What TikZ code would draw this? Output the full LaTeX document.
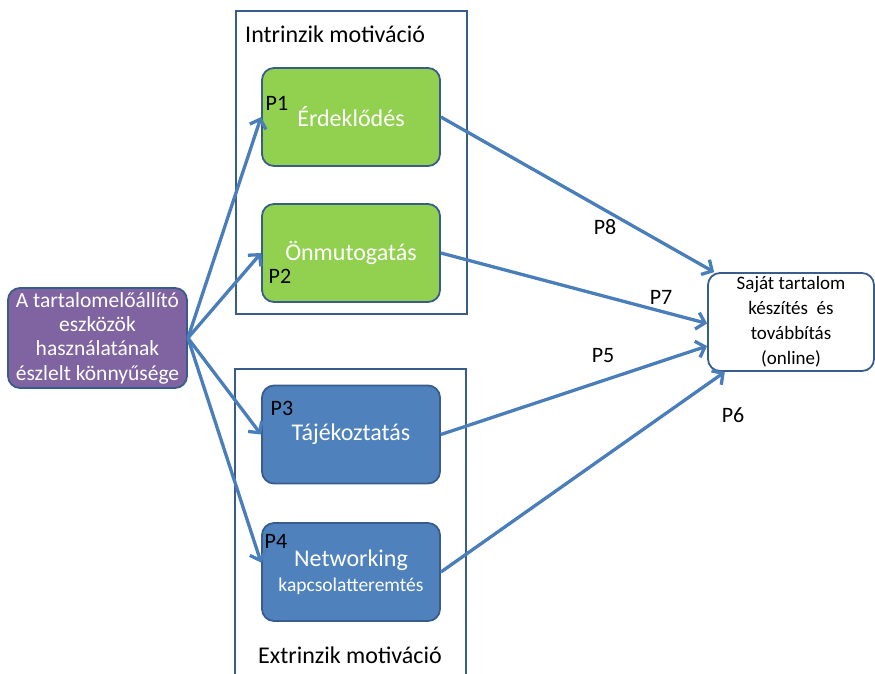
\documentclass[tikz,border=0pt]{standalone}
\usepackage{fontspec}
\setmainfont{Carlito}
\usetikzlibrary{arrows.meta}
\definecolor{grn}{HTML}{92D050}
\definecolor{blu}{HTML}{4F81BD}
\definecolor{pur}{HTML}{8064A2}
\definecolor{bord}{HTML}{385D8A}
\definecolor{arr}{HTML}{4A7EBB}
\begin{document}
\begin{tikzpicture}[x=1pt,y=-1pt,
  box/.style={draw=bord, line width=1.8pt, rounded corners=12pt, minimum width=178pt, minimum height=98pt, text=white, align=center, font=\fontsize{24}{26}\selectfont},
  frame/.style={draw=bord, line width=1.8pt},
  plabel/.style={text=black, font=\fontsize{22}{24}\selectfont, inner sep=0pt},
  title/.style={text=black, font=\fontsize{24}{26}\selectfont, inner sep=0pt},
  conn/.style={draw=arr, line width=3.3pt, -{Straight Barb[length=8pt,width=17pt,line width=3.3pt]}}]
\useasboundingbox (0,0) rectangle (875,673);
% frames
\node[frame, minimum width=231pt, minimum height=303pt, anchor=north west, inner sep=0pt] (intr) at (235,10) {};
\draw[frame] (235,675) -- (235,369) -- (466,369) -- (466,675);
\node[title, anchor=west] (ti) at (245,34) {Intrinzik motiváció};
\node[title] (te) at (350,655) {Extrinzik motiváció};
% source
\node[box, fill=pur, minimum width=179pt, minimum height=100pt, inner sep=0pt, font=\fontsize{21.5}{24.3}\selectfont] (src) at (97.5,338)
  {A tartalomelőállító\\eszközök\\használatának\\észlelt könnyűsége};
% middle boxes
\node[box, fill=grn] (erd) at (351,117) {Érdeklődés};
\node[box, fill=grn] (onm) at (351,253) {Önmutogatás};
\node[box, fill=blu] (taj) at (351,434.5) {Tájékoztatás};
\node[box, fill=blu] (net) at (351,572) {Networking\\[-1pt]{\fontsize{19.5}{21}\selectfont kapcsolatteremtés}};
% target
\node[draw=bord, line width=1.8pt, rounded corners=12pt, fill=white, minimum width=166pt, minimum height=98pt, inner sep=0pt, align=center, font=\fontsize{19}{25}\selectfont] (tgt) at (791,322)
  {Saját tartalom\\készítés~~és\\továbbítás\\(online)};
% connectors
\draw[conn] (src.east) -- (erd.west);
\draw[conn] (src.east) -- (onm.west);
\draw[conn] (src.east) -- (taj.west);
\draw[conn] (src.east) -- (net.174);
\draw[conn] (erd.east) -- (tgt.147);
\draw[conn] (onm.east) -- (tgt.181);
\draw[conn] (taj.east) -- (tgt.196);
\draw[conn] (net.east) -- (tgt.217);
% labels
\node[plabel] (p1) at (277,103) {P1};
\node[plabel] (p2) at (280,276) {P2};
\node[plabel] (p3) at (282,408) {P3};
\node[plabel] (p4) at (276,541) {P4};
\node[plabel] (p8) at (605,227) {P8};
\node[plabel] (p7) at (661,297) {P7};
\node[plabel] (p5) at (603,356) {P5};
\node[plabel] (p6) at (733,415) {P6};
\end{tikzpicture}
\end{document}
